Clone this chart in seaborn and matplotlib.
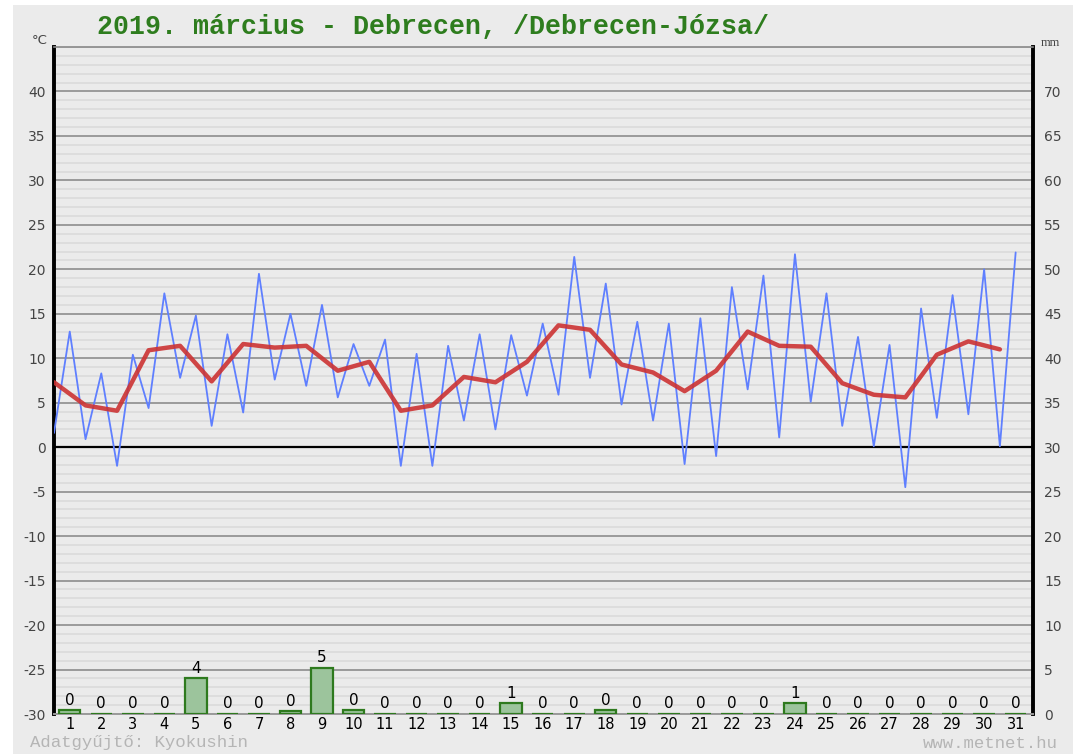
import matplotlib
matplotlib.use("Agg")
import matplotlib.pyplot as plt
import matplotlib.patches as mpatches
import seaborn as sns
import numpy as np

# napi adatok, 2019. március, Debrecen-Józsa
days = np.arange(1, 32)
tmin = [1.6, 0.9, -2.1, 4.4, 7.8, 2.4, 3.9, 7.6, 6.9, 5.6, 6.9, -2.1, -2.1, 3.0, 2.0, 5.8,
        5.9, 7.8, 4.8, 3.0, -1.9, -1.0, 6.5, 1.1, 5.1, 2.4, 0.1, -4.5, 3.3, 3.7, 0.1]
tmax = [13.0, 8.3, 10.4, 17.3, 14.8, 12.7, 19.5, 15.0, 16.0, 11.6, 12.1, 10.5, 11.4, 12.7, 12.6, 13.9,
        21.4, 18.4, 14.1, 13.9, 14.5, 18.0, 19.3, 21.7, 17.3, 12.4, 11.5, 15.6, 17.1, 20.0, 21.9]
tavg = [7.3, 4.7, 4.1, 10.9, 11.4, 7.4, 11.6, 11.2, 11.4, 8.6, 9.6, 4.1, 4.7, 7.9, 7.3, 9.6,
        13.7, 13.2, 9.3, 8.4, 6.3, 8.6, 13.0, 11.4, 11.3, 7.2, 5.9, 5.6, 10.4, 11.9, 11.0]
precip = [0.4, 0, 0, 0, 4.0, 0, 0, 0.3, 5.2, 0.4, 0, 0, 0, 0, 1.2, 0,
          0, 0.4, 0, 0, 0, 0, 0, 1.2, 0, 0, 0, 0, 0, 0, 0]

sns.set_style("white")
plt.rcParams['font.family'] = ['DejaVu Sans']
plt.rcParams['axes.unicode_minus'] = False

BG = '#ebebeb'
fig = plt.figure(figsize=(10.73, 7.54), dpi=100, facecolor='white')
fig.patches.append(mpatches.Rectangle((13 / 1073, 0), 1, 1 - 5 / 754, transform=fig.transFigure,
                                      facecolor=BG, edgecolor='none', zorder=-10))
ax = fig.add_axes([54 / 1073, 1 - 714 / 754, 979 / 1073, 667 / 754])
ax.set_facecolor(BG)

# rácsvonalak
ax.set_ylim(-30, 45)
ax.set_xlim(0.5, 31.55)
ax.set_yticks(np.arange(-30, 41, 5))
ax.set_yticks(np.arange(-30, 46, 1), minor=True)
ax.grid(which='minor', axis='y', color='#dddddd', linewidth=1.4)
ax.grid(which='major', axis='y', color='#9a9a9a', linewidth=1.4)
ax.grid(axis='x', visible=False)
ax.axhline(0, color='black', linewidth=1.6, zorder=2)
ax.set_axisbelow(True)

# hőmérséklet: min/max cikkcakk és napi átlag
xs = np.ravel(np.column_stack([days - 0.5, days]))
ys = np.ravel(np.column_stack([tmin, tmax]))
sns.lineplot(x=xs, y=ys, sort=False, color='#5f7fff', linewidth=1.3, ax=ax, zorder=3)
sns.lineplot(x=days - 0.5, y=tavg, sort=False, color='#cc3333', linewidth=3.2, alpha=0.9, ax=ax, zorder=4)

ax.set_xticks(days)
ax.set_xticklabels([str(d) for d in days], fontsize=10.5, color='black')
ax.tick_params(axis='x', length=0, pad=2)
ax.tick_params(axis='y', which='both', length=0, pad=6, labelsize=10, labelcolor='#444444')
ax.set_xlabel('')
ax.set_ylabel('')

for s in ['left', 'right']:
    ax.spines[s].set_color('black')
    ax.spines[s].set_linewidth(2.8)
ax.spines['top'].set_color('#888888')
ax.spines['top'].set_linewidth(1.2)
ax.spines['bottom'].set_color('#9a9a9a')
ax.spines['bottom'].set_linewidth(1.4)

# csapadék a jobb tengelyen
ax2 = ax.twinx()
sns.barplot(x=days, y=precip, native_scale=True, width=0.68, color='#9cc49c',
            edgecolor='#2e7a1e', linewidth=1.6, saturation=1, ax=ax2, zorder=5)
ax2.set_ylim(0, 75)
ax2.set_xlim(0.5, 31.55)
ax2.set_yticks(np.arange(0, 71, 5))
ax2.tick_params(axis='y', length=0, pad=8, labelsize=10, labelcolor='#444444')
ax2.set_ylabel('')
ax2.set_xlabel('')
ax2.grid(False)
for s in ax2.spines.values():
    s.set_visible(False)
ax2.bar_label(ax2.containers[0], labels=[f"{int(round(v))}" for v in precip],
              padding=2, fontsize=11, color='black')

# feliratok
fig.text(97 / 1073, 1 - 27 / 754, '2019. március - Debrecen, /Debrecen-Józsa/',
         family='Liberation Mono', fontweight='bold', fontsize=19.2, color='#2e7d1e',
         ha='left', va='center')
fig.text(40 / 1073, 1 - 40 / 754, '°C', fontsize=9.5, color='#444444', ha='center', va='center')
fig.text(1050 / 1073, 1 - 43 / 754, 'mm', fontsize=9, family='Liberation Serif',
         color='#444444', ha='center', va='center')
fig.text(30 / 1073, 1 - 743 / 754, 'Adatgyűjtő: Kyokushin', family='Liberation Mono',
         fontsize=12.5, color='#b5b5b5', ha='left', va='center')
fig.text(1058 / 1073, 1 - 743 / 754, 'www.metnet.hu', family='Liberation Mono',
         fontsize=12.5, color='#b5b5b5', ha='right', va='center')

plt.savefig('out.png', dpi=100, facecolor='white')
